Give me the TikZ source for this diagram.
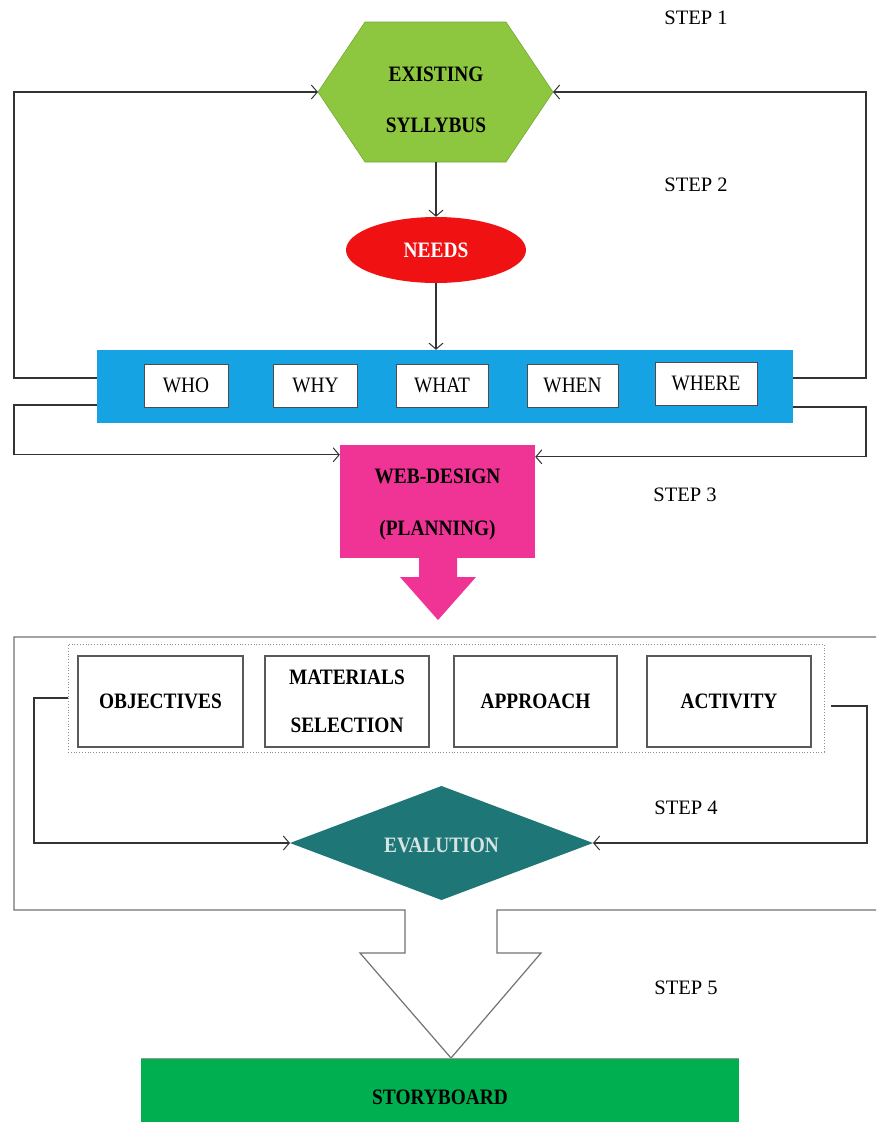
\documentclass[tikz,border=0pt]{standalone}
\usepackage{fontspec}
\setmainfont{Liberation Serif}
\newfontfamily\condfont[FakeStretch=0.88]{Liberation Serif}
\usetikzlibrary{arrows.meta,calc,shapes.geometric}
\definecolor{hexgreen}{RGB}{141,198,63}
\definecolor{needred}{RGB}{240,18,18}
\definecolor{barblue}{RGB}{22,163,228}
\definecolor{webpink}{RGB}{240,52,150}
\definecolor{evalteal}{RGB}{30,118,118}
\definecolor{sbgreen}{RGB}{0,176,80}
\definecolor{evaltext}{RGB}{215,228,228}
\begin{document}
\begin{tikzpicture}[x=1pt,y=-1pt,
  conn/.style={draw=black!80, line width=1.1pt, -{Straight Barb[length=6pt,width=14pt,line width=1pt]}},
  frame/.style={draw=black!55, line width=1.2pt},
  lbl/.style={font=\fontsize{20.5}{24}\selectfont, inner sep=0pt},
  blbl/.style={font=\condfont\fontsize{22}{24}\selectfont\bfseries, inner sep=0pt},
  wbox/.style={draw=black!70, line width=0.9pt, fill=white, minimum height=43pt, inner sep=0pt, font=\condfont\fontsize{22}{24}\selectfont},
  abox/.style={draw=black!65, line width=1.3pt, fill=white, minimum height=91pt, inner sep=0pt, font=\condfont\fontsize{22}{24}\selectfont\bfseries, align=center},
]
\useasboundingbox (0,0) rectangle (876,1122);
\fill[white] (0,0) rectangle (876,1122);

% hexagon
\coordinate (hexW) at (318,92);
\coordinate (hexE) at (553,92);
\coordinate (hexS) at (436,162);
\filldraw[fill=hexgreen, draw=hexgreen!85!black, line width=0.6pt]
  (hexW) -- (365,22) -- (506,22) -- (hexE) -- (506,162) -- (365,162) -- cycle;
\node[blbl, align=center] (syl) at (436,99.5) {EXISTING\\[27pt]SYLLYBUS};

% needs
\node[ellipse, fill=needred, minimum width=180pt, minimum height=66pt, inner sep=0pt,
  font=\condfont\fontsize{22}{24}\selectfont\bfseries, text=white] (needs) at (436,250) {NEEDS};
\draw[conn] (hexS) -- (needs.north);

% blue bar
\node[fill=barblue, minimum width=696pt, minimum height=73pt, inner sep=0pt] (bar) at (445,386.5) {};
\draw[conn] (needs.south) -- (needs.south |- bar.north);
\node[wbox, minimum width=84pt] (who) at (186,385.5) {WHO};
\node[wbox, minimum width=84pt] (why) at (315.5,385.5) {WHY};
\node[wbox, minimum width=92pt] (what) at (442,385.5) {WHAT};
\node[wbox, minimum width=91pt] (when) at (572.5,385.5) {WHEN};
\node[wbox, minimum width=102pt] (where) at (706,383.5) {WHERE};

% web design
\node[fill=webpink, minimum width=195pt, minimum height=113pt, inner sep=0pt] (web) at (437.5,501.5) {};
\node[blbl, align=center] (webt) at (437.5,505) {WEB-DESIGN\\[28pt](PLANNING)};
\fill[webpink] (419,557) -- (419,577) -- (400,577) -- (438,620) -- (476,577) -- (457,577) -- (457,557) -- cycle;

\coordinate (webL) at ($(web.north west)+(0,10)$);
\coordinate (webR) at ($(web.north east)+(0,12)$);

% feedback loops around bar
\draw[conn] ($(bar.west)+(0,-8.5)$) -- (14,378) |- (hexW);
\draw[conn] ($(bar.east)+(0,-8.5)$) -- (866,378) |- (hexE);
\draw[conn] ($(bar.west)+(0,18.5)$) -- (14,405) |- (webL);
\draw[conn] ($(bar.east)+(0,20.5)$) -- (866,407) |- (webR);

% outer frame with white block arrow
\draw[frame, fill=white] (876,637) -- (14,637) -- (14,910) -- (405,910) -- (405,953) -- (360,953)
  -- (451,1058) -- (541,953) -- (497,953) -- (497,910) -- (876,910);

% dotted group
\node[draw=black!45, dotted, line width=0.8pt, minimum width=756pt, minimum height=108pt, inner sep=0pt] (grp) at (446,698) {};
\node[abox, minimum width=165pt] (obj) at (160.5,701.5) {OBJECTIVES};
\node[abox, minimum width=164pt] (mat) at (347,701.5) {MATERIALS\\[24pt]SELECTION};
\node[abox, minimum width=163pt] (app) at (535.5,701.5) {APPROACH};
\node[abox, minimum width=164pt] (act) at (729,701.5) {ACTIVITY};

% evaluation diamond
\coordinate (evalW) at (290,843);
\coordinate (evalE) at (593,843);
\fill[evalteal] (evalW) -- (441.5,786) -- (evalE) -- (441.5,900) -- cycle;
\node[blbl, text=evaltext] (eval) at (441.5,845) {EVALUTION};

\draw[conn] (grp.west) -- (34,698) |- (evalW);
\draw[conn] ($(grp.east)+(7,8)$) -- (867,706) |- (evalE);

% storyboard
\fill[sbgreen] (141,1058) rectangle (739,1126);
\draw[black!40, line width=0.8pt] (141,1058) -- (739,1058);
\node[blbl] (story) at (440,1097) {STORYBOARD};

% STEP labels
\node[lbl] (s1) at (696,18) {STEP 1};
\node[lbl] (s2) at (696,185) {STEP 2};
\node[lbl] (s3) at (685,495) {STEP 3};
\node[lbl] (s4) at (686,808) {STEP 4};
\node[lbl] (s5) at (686,988) {STEP 5};
\end{tikzpicture}
\end{document}
